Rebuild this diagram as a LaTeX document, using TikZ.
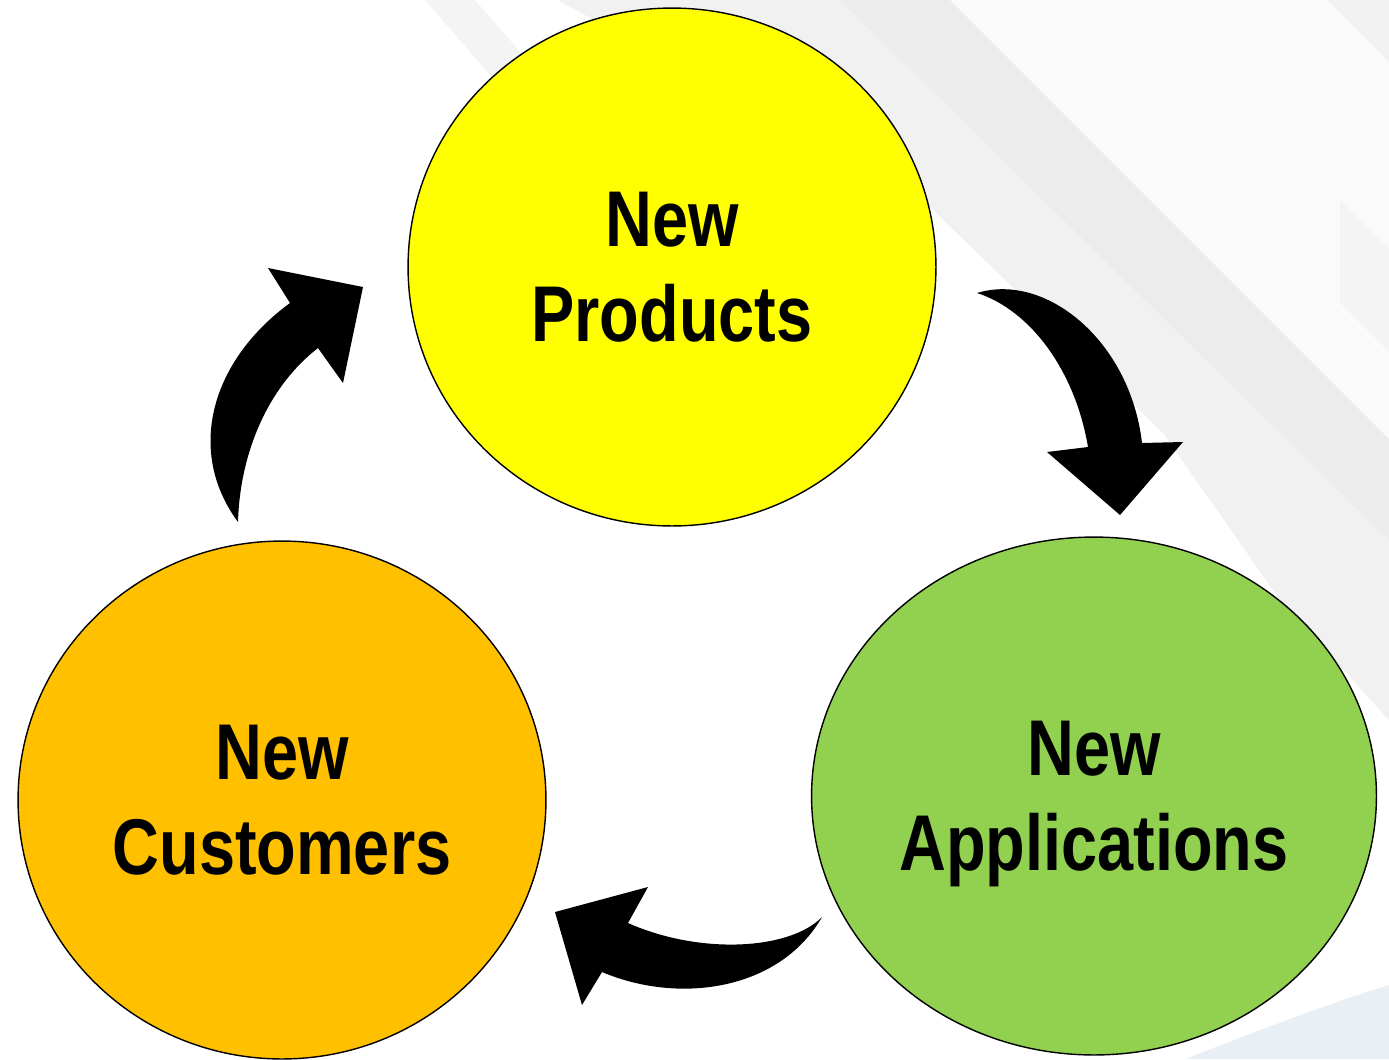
\documentclass[tikz,border=0pt]{standalone}
\usepackage{fontspec}
\setmainfont{Liberation Sans}
\newfontfamily\cyclefont[FakeStretch=0.82]{Liberation Sans}
\usetikzlibrary{shapes.geometric}
\definecolor{prodyellow}{HTML}{FFFF00}
\definecolor{custorange}{HTML}{FFC000}
\definecolor{applgreen}{HTML}{92D050}
\definecolor{stripegray}{HTML}{F1F1F1}
\definecolor{stripelight}{HTML}{FAFAFA}
\definecolor{stripedark}{HTML}{ECECEC}
\definecolor{stripepale}{HTML}{F4F4F4}
\definecolor{cornerblue}{HTML}{E8EFF5}

\begin{document}
\begin{tikzpicture}[x=0.02cm,y=-0.02cm,
    cyclenode/.style={ellipse,draw=black,line width=0.8pt,inner sep=0pt,align=center,text depth=0pt,
      font=\cyclefont\bfseries\fontsize{45}{54}\selectfont},
    cyclearrow/.style={fill=black}]
    \useasboundingbox (0,0) rectangle (1389,1059);
    % background stripes
    \fill[white] (0,0) rectangle (1389,1059);
    \fill[stripepale] (425,0) -- (475,0) -- (640,190) -- (590,190) -- cycle;
    \fill[stripegray] (558,0) -- (1389,0) -- (1389,720) -- (1280,600) -- (1163,433) -- (930,207) -- cycle;
    \fill[stripedark] (840,0) -- (950,0) -- (1389,439) -- (1389,540) -- cycle;
    \fill[stripelight] (950,0) -- (1327,0) -- (1389,62) -- (1389,439) -- cycle;
    \fill[stripepale] (1340,200) -- (1389,249) -- (1389,352) -- (1340,303) -- cycle;
    \fill[cornerblue] (1185,1059) .. controls (1260,1030) and (1330,1003) .. (1389,985) -- (1389,1059) -- cycle;
    % circles
    \node[cyclenode,fill=prodyellow,minimum width=10.56cm,minimum height=10.36cm] (prod) at (672,267) {New\\Products};
    \node[cyclenode,fill=applgreen,minimum width=11.3cm,minimum height=10.36cm] (appl) at (1094,796) {New\\Applications};
    \node[cyclenode,fill=custorange,minimum width=10.56cm,minimum height=10.36cm] (cust) at (282,800) {New\\Customers};
    % curved arrows
    \fill[cyclearrow] (238,522) .. controls (185,450) and (212,360) .. (290,303) -- (268,268) -- (363,287) -- (343,383) -- (318,348) .. controls (270,385) and (240,450) .. (238,522) -- cycle;
    \fill[cyclearrow] (977,293) .. controls (1045,272) and (1130,340) .. (1142,443) -- (1183,442) -- (1120,515) -- (1047,452) -- (1088,447) .. controls (1075,370) and (1030,310) .. (977,293) -- cycle;
    \fill[cyclearrow] (822,917) .. controls (780,990) and (680,1005) .. (602,972) -- (582,1005) -- (555,912) -- (648,887) -- (628,923) .. controls (700,955) and (790,950) .. (822,917) -- cycle;
\end{tikzpicture}
\end{document}
